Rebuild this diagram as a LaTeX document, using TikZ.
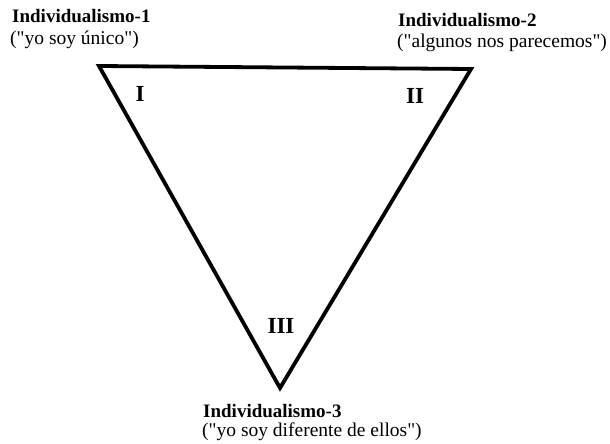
\documentclass[tikz,border=0pt]{standalone}
\usepackage{fontspec}
\setmainfont{Liberation Serif}[Ligatures=TeXOff]
\begin{document}
\begin{tikzpicture}[x=1pt,y=-1pt,
  title/.style={anchor=base west,inner sep=0pt,font=\fontsize{19}{21}\selectfont\bfseries},
  sub/.style={anchor=base west,inner sep=0pt,font=\fontsize{19.5}{21}\selectfont},
  numeral/.style={inner sep=0pt,font=\fontsize{23}{25}\selectfont\bfseries},
  edge/.style={line width=3.8pt,line join=miter}]
\useasboundingbox (0,0) rectangle (610,444);
\coordinate (A) at (99,66);
\coordinate (B) at (471,69);
\coordinate (C) at (280,388);
\draw[edge] (A) -- (B) -- (C) -- cycle;
\node[title] (l1) at (12,23) {Individualismo-1};
\node[sub] (l1s) at (10,45) {("yo soy único")};
\node[title] (l2) at (398,27) {Individualismo-2};
\node[sub] (l2s) at (397,48) {("algunos nos parecemos")};
\node[title] (l3) at (203,417) {Individualismo-3};
\node[sub] (l3s) at (202,436) {("yo soy diferente de ellos")};
\node[numeral] (r1) at (140,94) {I};
\node[numeral] (r2) at (415,96) {II};
\node[numeral] (r3) at (281,326) {III};
\end{tikzpicture}
\end{document}
